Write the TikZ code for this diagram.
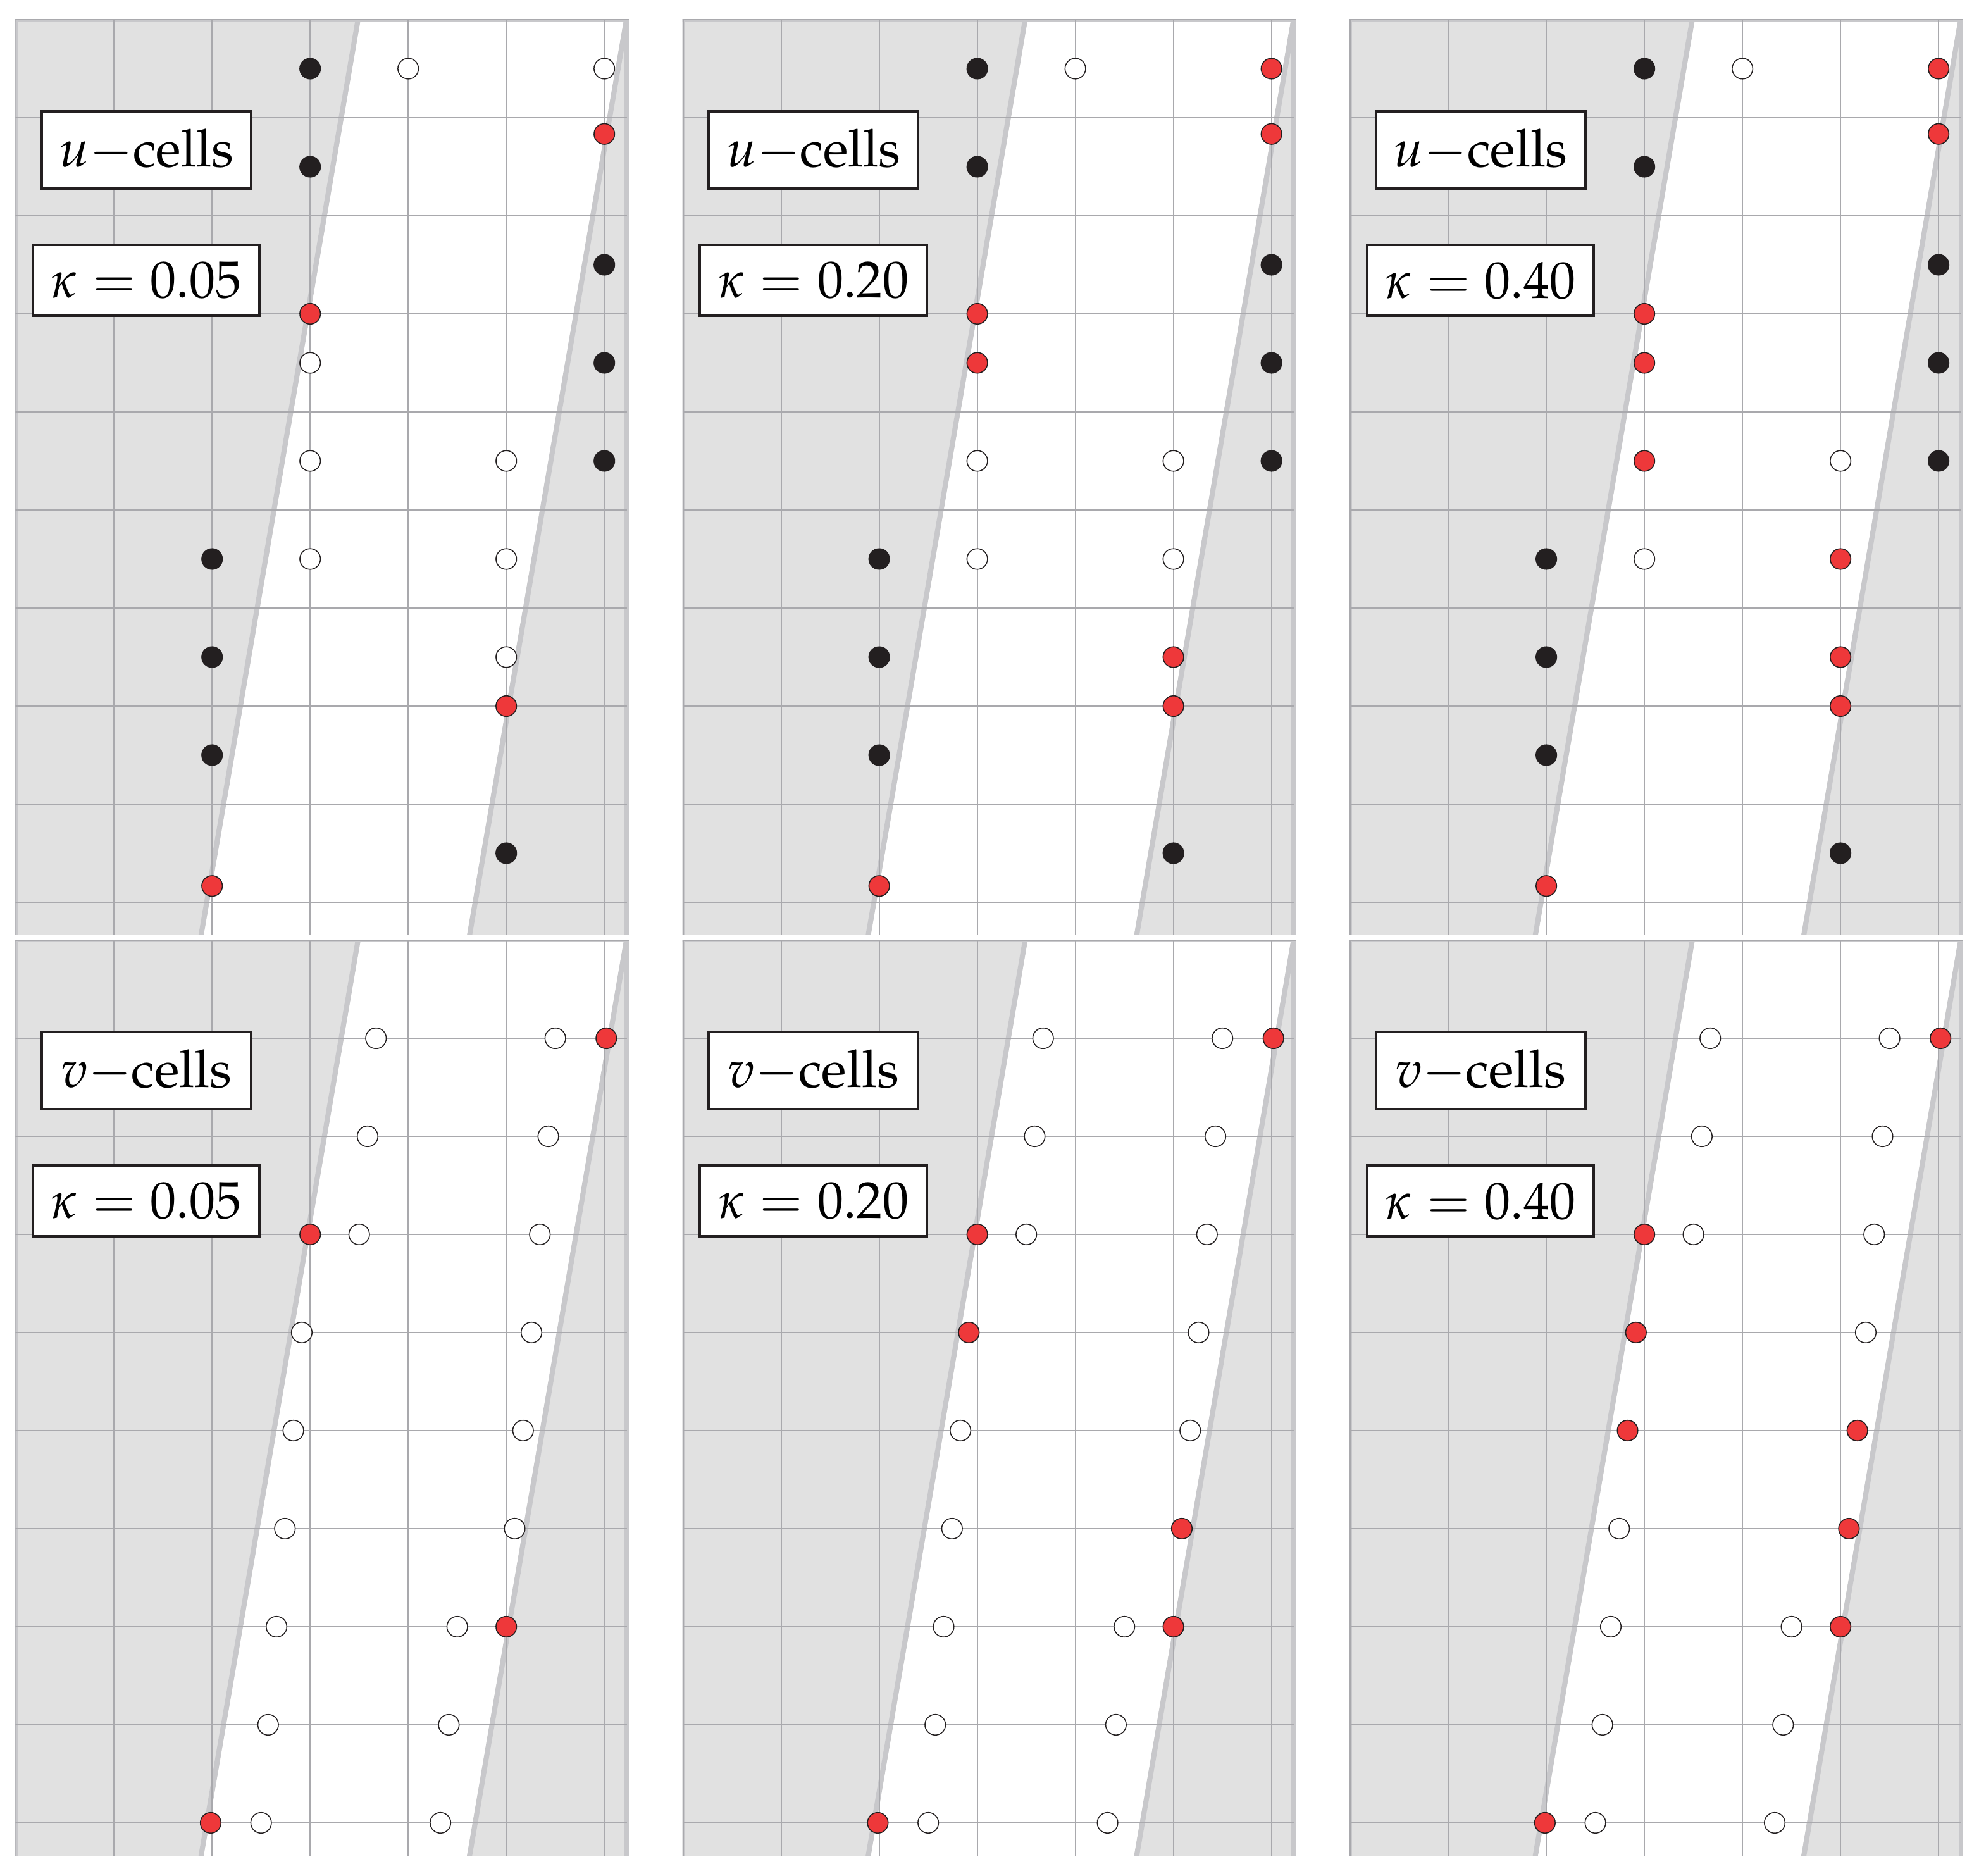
\documentclass[tikz,border=0pt]{standalone}
\usepackage[T1]{fontenc}
\usepackage{mathpazo}
\definecolor{bgf}{RGB}{225,225,225}
\definecolor{wallc}{RGB}{200,200,203}
\definecolor{gridc}{RGB}{169,169,173}
\definecolor{redd}{RGB}{238,56,58}
\definecolor{blk}{RGB}{35,31,32}
\tikzset{
  wall/.style={draw=wallc,line width=0.052cm},
  gridl/.style={draw=gridc,line width=0.011cm},
  wdot/.style={fill=white,draw=blk,line width=0.28pt},
  bdot/.style={fill=blk,draw=blk,line width=0.28pt},
  rdot/.style={fill=redd,draw=blk,line width=0.28pt},
  lbl/.style={draw=blk,fill=white,line width=0.734pt,inner sep=0pt,
    font=\fontsize{15.1}{18}\selectfont},
  cellbox/.style={lbl,minimum width=2.135cm,minimum height=0.79cm},
  kapbox/.style={lbl,minimum width=2.31cm,minimum height=0.7226cm}
}
\newcommand\dt[3]{\path[#1] (#2,#3) circle[radius=0.105];}
\newcommand\panelbg{%
  \begin{scope}
    \clip (-0.006,-0.006) rectangle (6.25,9.335);
    \fill[bgf] (-0.1,-0.1) rectangle (6.4,9.5);
    \fill[white] (3.5313,-0.1) -- (6.2169,-0.1) -- (4.5715,9.5) -- (1.8859,9.5) -- cycle;
    \draw[wall] (3.5053,-0.1) -- (1.8599,9.5);
    \draw[wall] (6.2429,-0.1) -- (4.5975,9.5);
    \fill[wallc] (6.205,-0.1) rectangle (6.4,9.5);
    \draw[wall] (-0.006,-0.1) -- (-0.006,9.5);
    \draw[wall] (-0.1,-0.006) -- (6.4,-0.006);
    \foreach \i in {0,...,6} \draw[gridl] (\i,-0.006) -- (\i,9.335);
    \foreach \j in {1,...,9} \draw[gridl] (-0.006,\j) -- (6.23,\j);
    \draw[gridl] (-0.006,0) -- (6.25,0);
  \end{scope}}
% #1 name prefix, #2 kappa, #3..#7 variable dot styles
\newcommand\upanel[7]{%
  \panelbg
  \dt{bdot}{3}{0.5}\dt{wdot}{4}{0.5}\dt{#3}{6}{0.5}
  \dt{rdot}{6}{1.166}
  \dt{bdot}{3}{1.5}
  \dt{bdot}{6}{2.5}
  \dt{rdot}{3}{3}
  \dt{#4}{3}{3.5}\dt{bdot}{6}{3.5}
  \dt{#5}{3}{4.5}\dt{wdot}{5}{4.5}\dt{bdot}{6}{4.5}
  \dt{bdot}{2}{5.5}\dt{wdot}{3}{5.5}\dt{#6}{5}{5.5}
  \dt{bdot}{2}{6.5}\dt{#7}{5}{6.5}
  \dt{rdot}{5}{7}
  \dt{bdot}{2}{7.5}
  \dt{bdot}{5}{8.5}
  \dt{rdot}{2}{8.834}
  \node[cellbox] (#1c) at (1.33,1.33) {$u-$cells};
  \node[kapbox] (#1k) at (1.328,2.658) {$\kappa = #2$};}
% #1 name prefix, #2 kappa, #3..#6 variable dot styles
\newcommand\vpanel[6]{%
  \panelbg
  \dt{wdot}{3.6714}{1}\dt{wdot}{5.5}{1}\dt{rdot}{6.02}{1}
  \dt{wdot}{3.5857}{2}\dt{wdot}{5.4285}{2}
  \dt{rdot}{3}{3}\dt{wdot}{3.5}{3}\dt{wdot}{5.3428}{3}
  \dt{#3}{2.9143}{4}\dt{wdot}{5.2571}{4}
  \dt{#4}{2.8286}{5}\dt{#5}{5.1714}{5}
  \dt{wdot}{2.7429}{6}\dt{#6}{5.0857}{6}
  \dt{wdot}{2.6572}{7}\dt{wdot}{4.5}{7}\dt{rdot}{5}{7}
  \dt{wdot}{2.5715}{8}\dt{wdot}{4.4143}{8}
  \dt{rdot}{1.9858}{9}\dt{wdot}{2.5}{9}\dt{wdot}{4.3286}{9}
  \node[cellbox] (#1c) at (1.33,1.33) {$v-$cells};
  \node[kapbox] (#1k) at (1.328,2.658) {$\kappa = #2$};}
\begin{document}
\begin{tikzpicture}[x=1cm,y=-1cm]
\useasboundingbox (0,0) rectangle (20.181,19.129);
\begin{scope}[shift={(0.1626,0.2)}]
  \upanel{pa}{0.05}{wdot}{wdot}{wdot}{wdot}{wdot}
\end{scope}
\begin{scope}[shift={(6.9656,0.2)}]
  \upanel{pb}{0.20}{rdot}{rdot}{wdot}{wdot}{rdot}
\end{scope}
\begin{scope}[shift={(13.7686,0.2)}]
  \upanel{pc}{0.40}{rdot}{rdot}{rdot}{rdot}{rdot}
\end{scope}
\begin{scope}[shift={(0.1626,9.587)}]
  \vpanel{pd}{0.05}{wdot}{wdot}{wdot}{wdot}
\end{scope}
\begin{scope}[shift={(6.9656,9.587)}]
  \vpanel{pe}{0.20}{rdot}{wdot}{wdot}{rdot}
\end{scope}
\begin{scope}[shift={(13.7686,9.587)}]
  \vpanel{pf}{0.40}{rdot}{rdot}{rdot}{rdot}
\end{scope}
\end{tikzpicture}
\end{document}
